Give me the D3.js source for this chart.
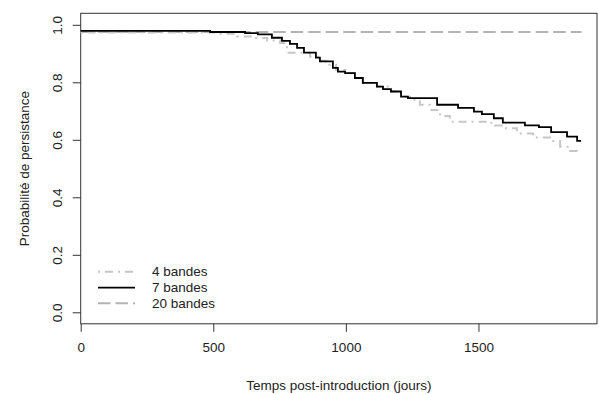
<!DOCTYPE html>
<html>
<head>
<meta charset="utf-8">
<script src="https://cdn.jsdelivr.net/npm/d3@7"></script>
<style>
  body { margin: 0; background: #fff; }
  text { font-family: "Liberation Sans", Arial, sans-serif; fill: #222; }
</style>
</head>
<body>
<svg id="chart"></svg>
<script>
// Kaplan-Meier style step curves
const t4 = [0, 507, 590, 650, 703, 752, 778, 865, 895, 925, 963, 997, 1034, 1064, 1117, 1170, 1208, 1242, 1279, 1317, 1355, 1392, 1532, 1562, 1592, 1645, 1706, 1770, 1808, 1846, 1872, 1876];
const s4 = [0.973, 0.969, 0.959, 0.954, 0.945, 0.937, 0.903, 0.889, 0.875, 0.861, 0.843, 0.832, 0.815, 0.798, 0.785, 0.768, 0.750, 0.739, 0.722, 0.704, 0.683, 0.663, 0.659, 0.650, 0.640, 0.622, 0.608, 0.596, 0.576, 0.561, 0.547, 0.547];

const t7 = [0, 488, 620, 668, 721, 759, 789, 816, 842, 887, 902, 951, 970, 997, 1034, 1064, 1117, 1140, 1170, 1208, 1234, 1344, 1423, 1483, 1513, 1558, 1592, 1675, 1728, 1774, 1834, 1872, 1887];
const s7 = [0.979, 0.975, 0.971, 0.967, 0.955, 0.944, 0.934, 0.920, 0.903, 0.886, 0.873, 0.850, 0.837, 0.832, 0.815, 0.798, 0.785, 0.776, 0.768, 0.750, 0.745, 0.722, 0.711, 0.698, 0.689, 0.675, 0.660, 0.650, 0.644, 0.627, 0.611, 0.596, 0.596];

const t20 = [0, 1889];
const s20 = [0.975, 0.975];

const xTicks = [0, 500, 1000, 1500];
const yTicks = [0, 0.2, 0.4, 0.6, 0.8, 1.0];
const legendLabels = ["4 bandes", "7 bandes", "20 bandes"];

const width = 599, height = 394;
const fs = "13.5px";
const svg = d3.select("#chart").attr("width", width).attr("height", height);

const x = d3.scaleLinear().domain([0, 1947]).range([80.7, 597]);
const y = d3.scaleLinear().domain([-0.04, 1.04]).range([323.8, 13.3]);

const series = [
  { t: t4, s: s4, color: "#c6c6c6", dash: "2,5,8,5", w: 2 },
  { t: t7, s: s7, color: "#000", dash: null, w: 1.8 },
  { t: t20, s: s20, color: "#b4b4b4", dash: "12.5,5", w: 2 },
];

// box
svg.append("rect")
  .attr("x", x.range()[0]).attr("y", y.range()[1])
  .attr("width", x.range()[1] - x.range()[0])
  .attr("height", y.range()[0] - y.range()[1])
  .attr("fill", "none").attr("stroke", "#333").attr("stroke-width", 1);

const line = d3.line().curve(d3.curveStepAfter).x(d => x(d[0])).y(d => y(d[1]));

// draw 20 first, then 4, then 7 on top
[series[2], series[0], series[1]].forEach(sr => {
  svg.append("path")
    .datum(sr.t.map((t, i) => [t, sr.s[i]]))
    .attr("d", line)
    .attr("fill", "none")
    .attr("stroke", sr.color)
    .attr("stroke-width", sr.w)
    .attr("stroke-dasharray", sr.dash);
});

// x axis
const xAxis = svg.append("g").attr("transform", `translate(0,${y.range()[0]})`)
  .call(d3.axisBottom(x).tickValues(xTicks).tickSize(8).tickPadding(11).tickFormat(d3.format("d")));
xAxis.select(".domain").remove();
xAxis.selectAll("line").attr("stroke", "#333");
xAxis.selectAll("text").style("font-size", fs).attr("fill", "#222");

// y axis
const yAxis = svg.append("g").attr("transform", `translate(${x.range()[0]},0)`)
  .call(d3.axisLeft(y).tickValues(yTicks).tickSize(8).tickFormat(d3.format(".1f")));
yAxis.select(".domain").remove();
yAxis.selectAll("line").attr("stroke", "#333");
yAxis.selectAll("text")
  .style("font-size", fs).attr("fill", "#222")
  .attr("text-anchor", "middle").attr("dy", null)
  .attr("x", 0).attr("transform", "translate(-19,0) rotate(-90)");

// axis titles
svg.append("text")
  .attr("x", (x.range()[0] + x.range()[1]) / 2).attr("y", 390)
  .attr("text-anchor", "middle").style("font-size", fs)
  .text("Temps post-introduction (jours)");
svg.append("text")
  .attr("transform", `translate(29,${(y.range()[0] + y.range()[1]) / 2}) rotate(-90)`)
  .attr("text-anchor", "middle").style("font-size", fs)
  .text("Probabilité de persistance");

// legend
const legY = [271.7, 287.7, 303.3];
legendLabels.forEach((lab, i) => {
  const sr = series[i];
  svg.append("line")
    .attr("x1", 98).attr("x2", 135).attr("y1", legY[i]).attr("y2", legY[i])
    .attr("stroke", sr.color).attr("stroke-width", sr.w)
    .attr("stroke-dasharray", sr.dash);
  svg.append("text")
    .attr("x", 152).attr("y", legY[i]).attr("dy", "0.35em")
    .style("font-size", fs).text(lab);
});
</script>
</body>
</html>
